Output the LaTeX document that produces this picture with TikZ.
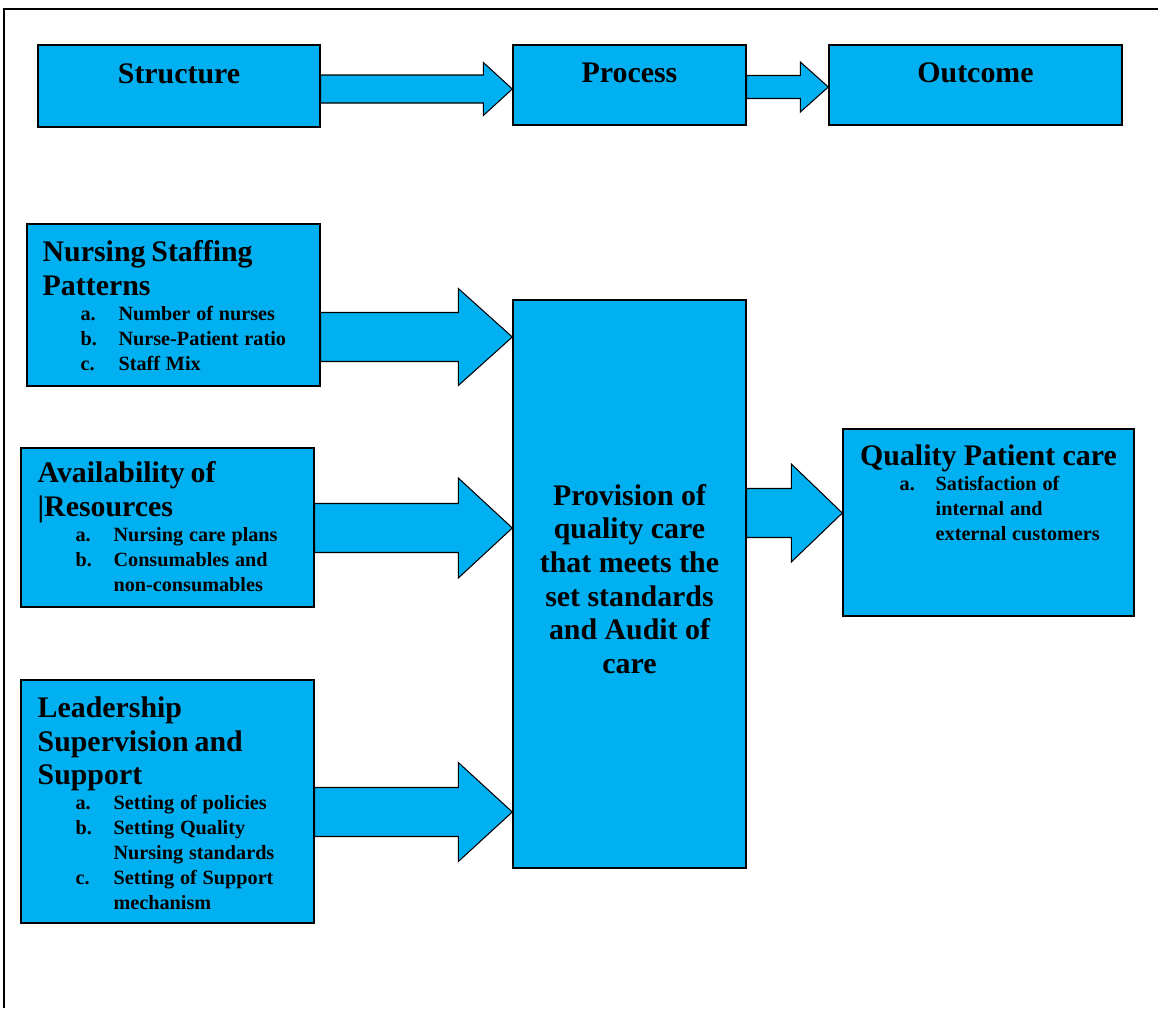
\documentclass[tikz,border=0pt]{standalone}
\usepackage{fontspec}
\setmainfont{Liberation Serif}
\usepackage{tikz}
\usetikzlibrary{calc,positioning}

\definecolor{boxblue}{RGB}{0,176,240}
\newlength\lw
\setlength\lw{21.6pt}
\newcommand\headfont{\fontsize{17}{19.2}\selectfont\bfseries}
\newcommand\itemfont{\fontsize{11.5}{14.2}\selectfont\bfseries}
\newcommand\litem[2]{\par\hangindent=\lw\hangafter=1\noindent\makebox[\lw][l]{#1}#2\par}

\begin{document}
\begin{tikzpicture}[x=0.02cm,y=-0.02cm,
  box/.style={draw=black,fill=boxblue,line width=0.8pt},
  arr/.style={draw=black,fill=boxblue,line width=0.6pt,line join=miter},
  ttl/.style={font=\headfont},
  txt/.style={text width=5.6cm,align=left,anchor=north west}]
\tikzstyle{every node}+=[inner sep=0pt]
\useasboundingbox (0,0) rectangle (1158,1008);
\draw [black,line width=1.1pt] (4,1008) -- (4,9) -- (1158,9);

\node [box,minimum width=5.64cm,minimum height=1.64cm] (struct) at (179,86) {};
\node [box,minimum width=4.66cm,minimum height=1.6cm] (proc) at (629.5,85) {};
\node [box,minimum width=5.86cm,minimum height=1.6cm] (outc) at (975.5,85) {};
\node [ttl,anchor=base] (structlbl) at (struct.center |- 0,83) {Structure};
\node [ttl,anchor=base] (proclbl) at (proc.center |- 0,82) {Process};
\node [ttl,anchor=base] (outclbl) at (outc.center |- 0,82) {Outcome};

\node [box,minimum width=5.86cm,minimum height=3.24cm] (nsp) at (173.5,305) {};
\node [box,minimum width=5.86cm,minimum height=3.18cm] (avail) at (167.5,527.5) {};
\node [box,minimum width=5.86cm,minimum height=4.86cm] (lead) at (167.5,801.5) {};
\node [box,minimum width=4.66cm,minimum height=11.36cm] (prov) at (629.5,584) {};
\node [box,minimum width=5.82cm,minimum height=3.74cm] (qual) at (988.5,522.5) {};

\node [ttl,align=center] (provtxt) at ($(prov.center)+(0,-5)$)
  {Provision of\\quality care\\that meets the\\set standards\\and Audit of\\care};
\node [txt] (nsptxt) at ($(nsp.north west)+(16,17)$) {%
  {\headfont Nursing Staffing\newline Patterns\par}%
  {\itemfont\leftskip=\lw\litem{a.}{Number of nurses}\litem{b.}{Nurse-Patient ratio}\litem{c.}{Staff Mix}}};
\node [txt] (availtxt) at ($(avail.north west)+(17,14)$) {%
  {\headfont Availability of\newline |Resources\par}%
  {\itemfont\leftskip=\lw\litem{a.}{Nursing care plans}\litem{b.}{Consumables and\newline non-consumables}}};
\node [txt] (leadtxt) at ($(lead.north west)+(17,17)$) {%
  {\headfont Leadership\newline Supervision and\newline Support\par}%
  {\itemfont\leftskip=\lw\litem{a.}{Setting of policies}\litem{b.}{Setting Quality\newline Nursing standards}\litem{c.}{Setting of Support\newline mechanism}}};
\node [ttl,anchor=base] (qualhead) at (qual.center |- 0,465) {Quality Patient care};
\node [txt,text width=4.6cm] (qualtxt) at ($(qual.north west)+(57,37)$) {%
  {\itemfont\setlength\lw{20.5pt}\litem{a.}{Satisfaction of\newline internal and\newline external customers}}};

\coordinate (tipa) at (proc.west |- 0,89);
\coordinate (tipb) at (outc.west |- 0,87);
\coordinate (tip1) at (prov.west |- 0,337);
\coordinate (tip2) at (prov.west |- 0,528);
\coordinate (tip3) at (prov.west |- 0,812);
\coordinate (tip4) at (qual.west |- 0,513);

\filldraw [arr] ($(struct.east |- tipa)+(0,-14)$) -- ($(tipa)+(-29,-14)$) -- ($(tipa)+(-29,-26.5)$) -- (tipa)
  -- ($(tipa)+(-29,26.5)$) -- ($(tipa)+(-29,14)$) -- ($(struct.east |- tipa)+(0,14)$) -- cycle;
\filldraw [arr] ($(proc.east |- tipb)+(0,-11.5)$) -- ($(tipb)+(-28,-11.5)$) -- ($(tipb)+(-28,-25)$) -- (tipb)
  -- ($(tipb)+(-28,25)$) -- ($(tipb)+(-28,11.5)$) -- ($(proc.east |- tipb)+(0,11.5)$) -- cycle;
\filldraw [arr] ($(nsp.east |- tip1)+(0,-24.5)$) -- ($(tip1)+(-54,-24.5)$) -- ($(tip1)+(-54,-48.5)$) -- (tip1)
  -- ($(tip1)+(-54,48.5)$) -- ($(tip1)+(-54,24.5)$) -- ($(nsp.east |- tip1)+(0,24.5)$) -- cycle;
\filldraw [arr] ($(avail.east |- tip2)+(0,-24.5)$) -- ($(tip2)+(-54,-24.5)$) -- ($(tip2)+(-54,-50)$) -- (tip2)
  -- ($(tip2)+(-54,50)$) -- ($(tip2)+(-54,24.5)$) -- ($(avail.east |- tip2)+(0,24.5)$) -- cycle;
\filldraw [arr] ($(lead.east |- tip3)+(0,-24.5)$) -- ($(tip3)+(-54,-24.5)$) -- ($(tip3)+(-54,-49.5)$) -- (tip3)
  -- ($(tip3)+(-54,49.5)$) -- ($(tip3)+(-54,24.5)$) -- ($(lead.east |- tip3)+(0,24.5)$) -- cycle;
\filldraw [arr] ($(prov.east |- tip4)+(0,-24.5)$) -- ($(tip4)+(-51,-24.5)$) -- ($(tip4)+(-51,-49)$) -- (tip4)
  -- ($(tip4)+(-51,49)$) -- ($(tip4)+(-51,24.5)$) -- ($(prov.east |- tip4)+(0,24.5)$) -- cycle;
\end{tikzpicture}
\end{document}
